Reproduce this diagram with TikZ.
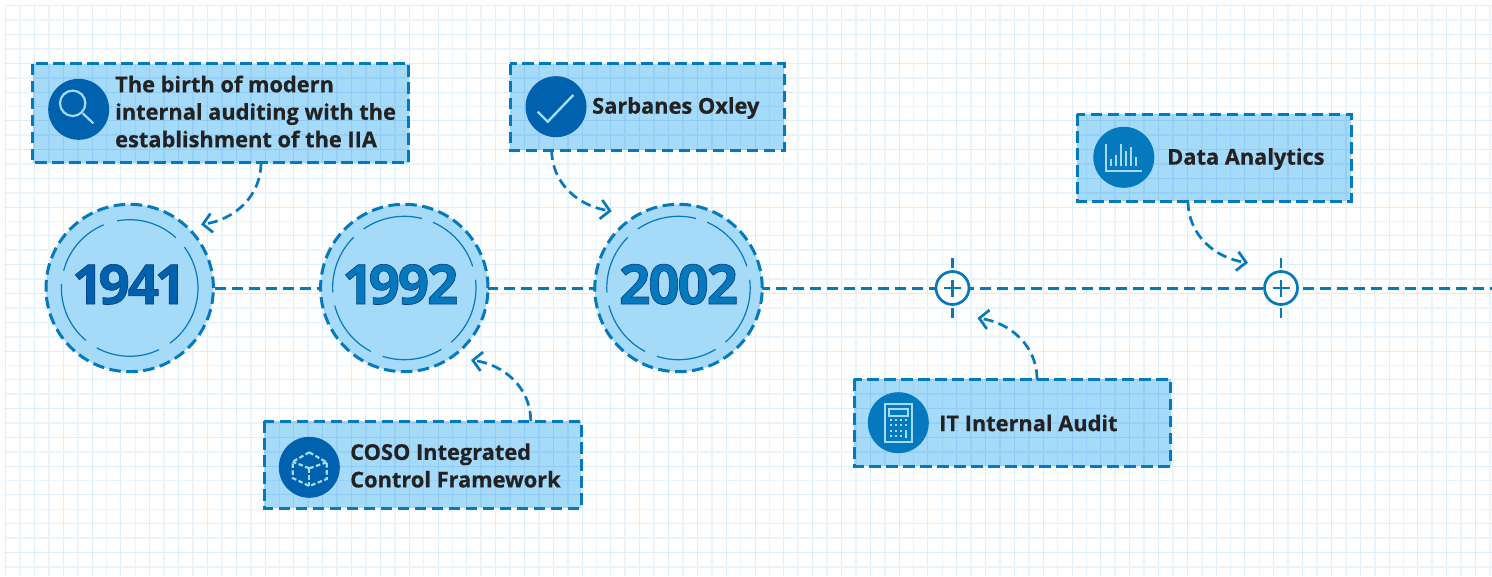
\documentclass[tikz,border=0pt]{standalone}
\usepackage{fontspec}
\setmainfont{Open Sans}[BoldFeatures={FakeBold=0.5}]
\newfontfamily\yearface[Numbers=Proportional,LetterSpace=-4,BoldFeatures={FakeBold=1.2}]{Open Sans}
\usetikzlibrary{arrows.meta}
\definecolor{linec}{HTML}{0479BD}
\definecolor{deepc}{HTML}{0062AE}
\definecolor{panelc}{HTML}{A6DAF9}
\definecolor{gridA}{HTML}{DDEEFB}
\definecolor{gridB}{HTML}{E9F4FD}
\definecolor{inkc}{HTML}{222222}
\tikzset{
  x=1pt,y=1pt,
  dashline/.style={draw=linec,line width=3pt,dash pattern=on 11.5pt off 5.5pt},
  panel/.style={draw=none,fill=panelc,blend mode=multiply,rectangle,inner sep=0pt,outer sep=0pt},
  yearring/.style={circle,dashline,fill=panelc,minimum size=167.4pt,inner sep=0pt,outer sep=0pt,
    font=\yearface\bfseries\fontsize{55}{55}\selectfont},
  inner/.style={draw=linec,line width=1.2pt},
  badge/.style={circle,minimum size=61pt,inner sep=0pt,outer sep=0pt},
  label/.style={anchor=west,align=left,inner sep=0pt,text=inkc,
    font=\bfseries\fontsize{21.8}{27.5}\selectfont},
  link/.style={draw=linec,line width=2.7pt,dash pattern=on 10pt off 5.5pt,
    -{Straight Barb[length=9pt,width=19pt,line width=2.7pt]}},
  plusring/.style={circle,draw=linec,line width=2.7pt,fill=white,minimum size=33pt,inner sep=0pt,outer sep=0pt},
  plusmark/.style={draw=linec,line width=2.7pt},
  glyph/.style={draw=panelc,line width=2.2pt,fill=none},
  glyphfill/.style={fill=panelc,draw=none},
}
\newcommand{\yearlabel}[1]{\raisebox{-16pt}[0pt][0pt]{\special{pdf:code 0.05 0.25 0.5 RG}#1}}
\begin{document}
\begin{tikzpicture}
\useasboundingbox (0,0) rectangle (1492,-576);
\fill[white] (0,0) rectangle (1492,-576);
% grid
\foreach \i in {0,...,103}{
  \pgfmathsetmacro{\gx}{5.7+14.41*\i}
  \pgfmathparse{int(mod(\i,2))}
  \ifnum\pgfmathresult=0
    \draw[gridA,line width=1pt] (\gx,-5.7) -- (\gx,-576);
  \else
    \draw[gridB,line width=1.7pt] (\gx,-5.7) -- (\gx,-576);
  \fi
}
\foreach \i in {0,...,39}{
  \pgfmathsetmacro{\gy}{5.7+14.39*\i}
  \pgfmathparse{int(mod(\i,2))}
  \ifnum\pgfmathresult=0
    \draw[gridA,line width=1pt] (5.7,-\gy) -- (1492,-\gy);
  \else
    \draw[gridB,line width=1.7pt] (5.7,-\gy) -- (1492,-\gy);
  \fi
}
% coordinates of timeline
\coordinate (lineend) at (1492,-288);
\coordinate (c1941) at (129.7,-288);
\coordinate (c1992) at (404.3,-288);
\coordinate (c2002) at (678.5,-288);
\coordinate (ca) at (952.5,-288);
\coordinate (cb) at (1281,-288);
\draw[dashline] (c1941) -- (c1992) -- (c2002) -- (ca) -- (cb) -- (lineend);
% year circles
\node[yearring,text=deepc] (y1941) at (c1941) {\hspace*{-2pt}\yearlabel{1941}};
\node[yearring,text=linec] (y1992) at (c1992) {\hspace*{-6pt}\yearlabel{1992}};
\node[yearring,text=linec] (y2002) at (c2002) {\yearlabel{2002}};
% inner arcs
\foreach \a/\b in {47.4/100.6,-54/36.8,-118.8/-64.6,-183.4/-129.8,112.3/165.3}
  \draw[inner] ([shift={(\a:68.3)}]y1941.center) arc (\a:\b:68.3);
\foreach \c in {y1992,y2002}
  \foreach \a/\b in {75.8/124.6,17.5/66.5,-49/6.6,-107.6/-58.8,-165.8/-117.8,135/183.5}
    \draw[inner] ([shift={(\a:71.7)}]\c.center) arc (\a:\b:71.7);
% plus markers
\node[plusring] (pa) at (ca) {};
\node[plusring] (pb) at (cb) {};
\foreach \p in {pa,pb}{
  \draw[plusmark] ([xshift=-8.5pt]\p.center) -- ([xshift=8.5pt]\p.center);
  \draw[plusmark] ([yshift=-8.5pt]\p.center) -- ([yshift=8.5pt]\p.center);
  \draw[plusmark] ([yshift=30pt]\p.center) -- ([yshift=20pt]\p.center);
  \draw[plusmark] ([yshift=-30pt]\p.center) -- ([yshift=-20pt]\p.center);
}
% panels
\node[panel,minimum width=376pt,minimum height=99.2pt,anchor=north west] (b1) at (32.5,-63.5) {};
\node[panel,minimum width=274pt,minimum height=86.3pt,anchor=north west] (b3) at (510,-63.7) {};
\node[panel,minimum width=317.3pt,minimum height=87.3pt,anchor=north west] (b2) at (264,-421) {};
\node[panel,minimum width=316.6pt,minimum height=86.7pt,anchor=north west] (b4) at (854,-379.3) {};
\node[panel,minimum width=273.9pt,minimum height=87pt,anchor=north west] (b5) at (1077.4,-114) {};
\foreach \b in {b1,b2,b3,b4,b5}
  \draw[dashline] (\b.north west) rectangle (\b.south east);
% badges
\node[badge,fill=deepc] (i1) at (78.7,-109.3) {};
\node[badge,fill=deepc] (i2) at (309.3,-467.3) {};
\node[badge,fill=deepc] (i3) at (556,-106.7) {};
\node[badge,fill=linec] (i4) at (898.3,-422.7) {};
\node[badge,fill=linec] (i5) at (1123.8,-157.3) {};
% labels
\node[label] (t1) at (115,-111.5) {The birth of modern\\internal auditing with the\\establishment of the IIA};
\node[label] (t2) at (350,-465.5) {COSO Integrated\\Control Framework};
\node[label] (t3) at (592,-108) {Sarbanes Oxley};
\node[label] (t4) at (939,-423) {IT Internal Audit};
\node[label] (t5) at (1167,-159) {Data Analytics};
% magnifier
\draw[glyph] (72.7,-103.3) circle (12.7);
\draw[glyph] (82.7,-113.3) -- (93.3,-123.3);
% check
\draw[glyph,line width=2.4pt] (537.7,-111.7) -- (547.7,-121.7) -- (573.3,-95);
% cube
\begin{scope}[glyph,dash pattern=on 4.5pt off 2.5pt]
\draw (309.3,-452.3) -- (326.7,-462.3) -- (326.7,-479) -- (309.3,-486) -- (292.7,-478) -- (292.7,-461.7) -- cycle;
\draw (309.3,-468.3) -- (309.3,-486);
\draw (309.3,-468.3) -- (326.7,-462.3);
\draw (309.3,-468.3) -- (292.7,-461.7);
\end{scope}
% calculator
\draw[glyph] (885,-404.3) rectangle (912.3,-441.7);
\draw[glyph,line width=1.8pt] (889.3,-409.3) rectangle (908.3,-415.7);
\foreach \kx in {891,896,901}
  \foreach \ky in {-420,-425,-430.7,-436}
    \fill[glyphfill] (\kx-1.2,\ky-1.2) rectangle (\kx+1.2,\ky+1.2);
\fill[glyphfill] (904.8,-421.2) rectangle (907.2,-418.8);
\fill[glyphfill] (904.8,-426.2) rectangle (907.2,-423.8);
\fill[glyphfill] (904.8,-437.5) rectangle (907.2,-430);
% chart
\draw[glyph] (1105.7,-144) -- (1105.7,-170.7) -- (1142.3,-170.7);
\foreach \bx/\by in {1111/159.3,1116/155,1121/144,1126.3/150.7,1131.3/146.7,1136.3/156.7}
  \fill[glyphfill] (\bx-1.1,-\by) rectangle (\bx+1.1,-166);
% connectors
\coordinate (tip1) at (201,-224.5);
\coordinate (tip2) at (471,-360);
\coordinate (tip3) at (611.7,-211);
\coordinate (tip4) at (977.4,-318);
\coordinate (tip5) at (1248,-262.7);
\draw[link] ([xshift=228.5pt]b1.south west) to[out=-90,in=8] (tip1);
\draw[link] ([xshift=266.7pt]b2.north west) to[out=90,in=-8] (tip2);
\draw[link] ([xshift=41.7pt]b3.south west) to[out=-90,in=172] (tip3);
\draw[link] ([xshift=183pt]b4.north west) to[out=90,in=-8] (tip4);
\draw[link] ([xshift=110.6pt]b5.south west) to[out=-90,in=172] (tip5);
\end{tikzpicture}
\end{document}
